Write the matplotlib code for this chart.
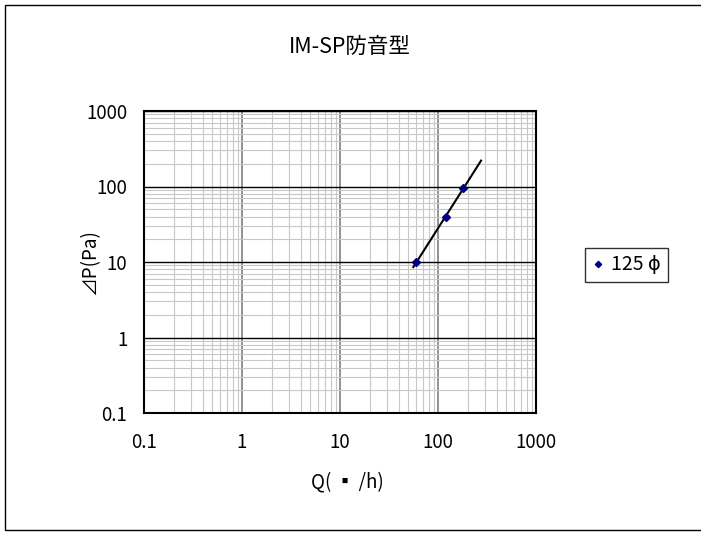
import numpy as np
import matplotlib
matplotlib.use("Agg")
import matplotlib.pyplot as plt
from matplotlib.patches import Rectangle
from matplotlib.ticker import LogLocator, FixedLocator, FixedFormatter, NullFormatter

plt.rcParams['font.family'] = ['Noto Sans CJK JP', 'DejaVu Sans']

# data
q = [60, 120, 180]          # flow, m3/h
dp = [10, 39, 95]           # pressure drop, Pa
fit_range = [56, 275]       # trendline extent
series_name = "125 ϕ"
tick_vals = [0.1, 1, 10, 100, 1000]
tick_text = ["0.1", "1", "10", "100", "1000"]

fig = plt.figure(figsize=(7.01, 5.33), dpi=100)
fig.patches.append(Rectangle((5 / 701, 3 / 533), 1.2, 525 / 533, transform=fig.transFigure,
                             fill=False, edgecolor='black', linewidth=1.0))

ax = fig.add_axes([144 / 701, 1 - 413 / 533, 392 / 701, 302 / 533])
ax.set_xscale('log')
ax.set_yscale('log')
ax.set_xlim(0.1, 1000)
ax.set_ylim(0.1, 1000)

# power trendline (least squares in log space)
b, a = np.polyfit(np.log10(q), np.log10(dp), 1)
xf = np.logspace(np.log10(fit_range[0]), np.log10(fit_range[1]), 50)
ax.plot(xf, 10 ** (a + b * np.log10(xf)), color='black', linewidth=1.5, zorder=3)
ax.plot(q, dp, linestyle='none', marker='D', markersize=4, color='#000080', zorder=4,
        label=series_name)

ax.xaxis.set_major_locator(FixedLocator(tick_vals))
ax.xaxis.set_major_formatter(FixedFormatter(tick_text))
ax.yaxis.set_major_locator(FixedLocator(tick_vals))
ax.yaxis.set_major_formatter(FixedFormatter(tick_text))
for axis in (ax.xaxis, ax.yaxis):
    axis.set_minor_locator(LogLocator(base=10, subs=np.arange(2, 10), numticks=20))
    axis.set_minor_formatter(NullFormatter())

ax.grid(which='minor', color='#c8c8c8', linewidth=0.8)
ax.xaxis.grid(which='major', color='#808080', linewidth=1.2)
ax.yaxis.grid(which='major', color='black', linewidth=1.0)
ax.set_axisbelow(True)
ax.tick_params(which='both', length=0, labelsize=13.5)
ax.tick_params(axis='x', pad=14)
ax.tick_params(axis='y', pad=12)
for s in ax.spines.values():
    s.set_linewidth(1.5)
    s.set_color('black')

ax.set_xlabel("Q( ▪ /h)", fontsize=13.5)
ax.set_ylabel("⊿P(Pa)", fontsize=13.5)
ax.xaxis.set_label_coords(0.52, -0.192)
ax.yaxis.set_label_coords(-0.112, 0.5)
fig.text(350 / 701, 1 - 47 / 533, "IM-SP防音型", ha='center', va='center', fontsize=15.5)

fig.legend(loc='center left', bbox_to_anchor=(585 / 701, 1 - 265 / 533), fontsize=14,
           frameon=True, fancybox=False, edgecolor='black', handlelength=0.6,
           handletextpad=0.4, borderpad=0.35, borderaxespad=0, markerscale=0.8)

fig.savefig("out.png", dpi=100)
